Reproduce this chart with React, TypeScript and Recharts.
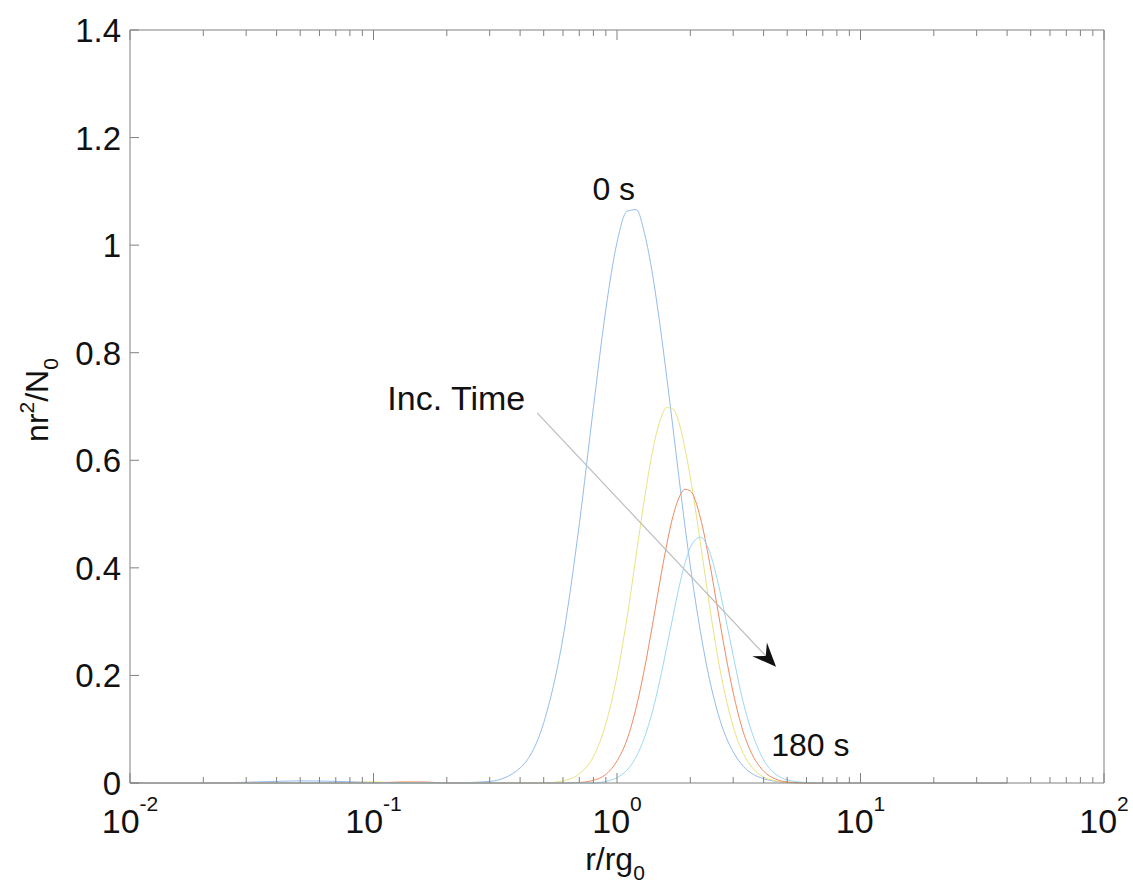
import React from "react";
import { LineChart, Line, XAxis, YAxis, ReferenceLine, ReferenceDot } from "recharts";

// r / rg0 sample points (log axis)
const radius = [
  0.01, 0.02, 0.04, 0.05, 0.07, 0.1, 0.13, 0.16, 0.2, 0.3, 0.4, 0.5, 0.6, 0.7, 0.8, 0.9,
  1.0, 1.1, 1.2, 1.3, 1.4, 1.5, 1.6, 1.7, 1.8, 1.9, 2.0, 2.2, 2.4, 2.6, 2.8, 3.0,
  3.3, 3.6, 4.0, 4.5, 5.0, 6.0, 8.0, 12, 20, 40,
];

// nr^2/N0, earliest to latest
const profile0s = [
  0, 0, 0.003, 0.004, 0.003, 0.001, 0, 0, 0, 0.003, 0.028, 0.112, 0.27, 0.481, 0.698, 0.881,
  1.005, 1.063, 1.066, 1.02, 0.945, 0.853, 0.755, 0.658, 0.565, 0.479, 0.404, 0.282, 0.192, 0.129, 0.086, 0.058,
  0.031, 0.017, 0.008, 0.003, 0.001, 0, 0, 0, 0, 0,
];
const profileB = [
  0, 0, 0, 0, 0, 0.002, 0, 0, 0, 0, 0, 0, 0.004, 0.017, 0.049, 0.11,
  0.199, 0.308, 0.425, 0.532, 0.617, 0.673, 0.698, 0.695, 0.669, 0.623, 0.569, 0.447, 0.329, 0.231, 0.158, 0.105,
  0.055, 0.028, 0.011, 0.004, 0.001, 0, 0, 0, 0, 0,
];
const profileC = [
  0, 0, 0, 0, 0, 0, 0.002, 0.002, 0, 0, 0, 0, 0, 0.001, 0.005, 0.016,
  0.041, 0.081, 0.141, 0.215, 0.295, 0.374, 0.443, 0.497, 0.531, 0.546, 0.543, 0.493, 0.41, 0.319, 0.236, 0.168,
  0.095, 0.052, 0.022, 0.007, 0.002, 0, 0, 0, 0, 0,
];
const profile180s = [
  0, 0, 0, 0, 0, 0, 0, 0, 0, 0, 0, 0, 0, 0, 0, 0.003,
  0.01, 0.024, 0.049, 0.086, 0.134, 0.191, 0.252, 0.311, 0.365, 0.408, 0.438, 0.457, 0.43, 0.372, 0.304, 0.237,
  0.15, 0.091, 0.043, 0.016, 0.006, 0.001, 0, 0, 0, 0,
];

const xMajorTicks = [0.01, 0.1, 1, 10, 100];
const xMinorTicks = [0.01, 0.1, 1, 10].flatMap((d) => [2, 3, 4, 5, 6, 7, 8, 9].map((m) => +(d * m).toPrecision(3)));
const yTicks = [0, 0.2, 0.4, 0.6, 0.8, 1, 1.2, 1.4];

const seriesList = [
  { key: "t0", values: profile0s, color: "#94bcec" },
  { key: "tB", values: profileB, color: "#e8e283" },
  { key: "tC", values: profileC, color: "#f08a62" },
  { key: "t180", values: profile180s, color: "#9dd8f3" },
];

const data = radius.map((r, i) => {
  const row: Record<string, number> = { r };
  seriesList.forEach((s) => (row[s.key] = s.values[i]));
  return row;
});

const FONT = '"Liberation Sans", Arial, Helvetica, sans-serif';
const AXIS = "#808080";

function BottomTick(props: any) {
  const { x, y, payload } = props;
  const v = payload.value;
  const major = xMajorTicks.includes(v);
  return (
    <g>
      <line x1={x} y1={y} x2={x} y2={y - (major ? 10 : 6)} stroke={AXIS} />
      {major && (
        <text x={x} y={y + 50} textAnchor="middle" fontFamily={FONT} fontSize={34} fill="#111">
          10
          <tspan dy={-22} fontSize={21}>
            {Math.round(Math.log10(v))}
          </tspan>
        </text>
      )}
    </g>
  );
}

function TopTick(props: any) {
  const { x, y, payload } = props;
  const major = xMajorTicks.includes(payload.value);
  return <line x1={x} y1={y} x2={x} y2={y + (major ? 10 : 6)} stroke={AXIS} />;
}

function LeftTick(props: any) {
  const { x, y, payload } = props;
  return (
    <g>
      <line x1={x} y1={y} x2={x + 9} y2={y} stroke={AXIS} />
      <text x={x - 9} y={y + 12} textAnchor="end" fontFamily={FONT} fontSize={33} fill="#111">
        {String(payload.value)}
      </text>
    </g>
  );
}

function RightTick(props: any) {
  const { x, y } = props;
  return <line x1={x} y1={y} x2={x - 9} y2={y} stroke={AXIS} />;
}

function ArrowShape(props: any) {
  const { x1, y1, x2, y2 } = props;
  const len = Math.hypot(x2 - x1, y2 - y1);
  const dx = (x2 - x1) / len;
  const dy = (y2 - y1) / len;
  const bx = x2 - dx * 24;
  const by = y2 - dy * 24;
  const nx = x2 - dx * 15;
  const ny = y2 - dy * 15;
  const pts = [
    [x2, y2],
    [bx - dy * 10, by + dx * 10],
    [nx, ny],
    [bx + dy * 10, by - dx * 10],
  ]
    .map((p) => p.join(","))
    .join(" ");
  return (
    <g>
      <line x1={x1} y1={y1} x2={nx} y2={ny} stroke="#bdbdbd" strokeWidth={1.2} />
      <polygon points={pts} fill="#111" />
    </g>
  );
}

const textShape = (label: string, anchor: "start" | "middle", size: number) => (p: any) =>
  (
    <text x={p.cx} y={p.cy} textAnchor={anchor} fontFamily={FONT} fontSize={size} fill="#111">
      {label}
    </text>
  );

export default function App() {
  return (
    <div style={{ position: "absolute", left: 0, top: 0, width: 1133, height: 886, background: "#fff" }}>
      <LineChart width={1133} height={886} data={data} margin={{ top: 29, right: 28, bottom: 23, left: 0 }}>
        <XAxis
          dataKey="r"
          type="number"
          scale="log"
          domain={[0.01, 100]}
          allowDataOverflow
          ticks={[...xMajorTicks, ...xMinorTicks]}
          interval={0}
          tickSize={0}
          tickMargin={0}
          tickLine={false}
          tick={<BottomTick />}
          axisLine={{ stroke: AXIS }}
          height={80}
        />
        <XAxis
          xAxisId="top"
          orientation="top"
          dataKey="r"
          type="number"
          scale="log"
          domain={[0.01, 100]}
          allowDataOverflow
          ticks={[...xMajorTicks, ...xMinorTicks]}
          interval={0}
          tickSize={0}
          tickMargin={0}
          tickLine={false}
          tick={<TopTick />}
          axisLine={{ stroke: AXIS }}
          height={1}
        />
        <YAxis
          type="number"
          domain={[0, 1.4]}
          ticks={yTicks}
          interval={0}
          tickSize={0}
          tickMargin={0}
          tickLine={false}
          tick={<LeftTick />}
          axisLine={{ stroke: AXIS }}
          width={130}
        />
        <YAxis
          yAxisId="right"
          orientation="right"
          type="number"
          domain={[0, 1.4]}
          ticks={yTicks}
          interval={0}
          tickSize={0}
          tickMargin={0}
          tickLine={false}
          tick={<RightTick />}
          axisLine={{ stroke: AXIS }}
          width={1}
        />
        {seriesList.map((s) => (
          <Line
            key={s.key}
            dataKey={s.key}
            type="monotone"
            stroke={s.color}
            strokeWidth={1}
            dot={false}
            activeDot={false}
            isAnimationActive={false}
          />
        ))}
        <ReferenceLine
          segment={[
            { x: 0.47, y: 0.688 },
            { x: 4.5, y: 0.216 },
          ]}
          shape={ArrowShape}
          ifOverflow="visible"
        />
        <ReferenceDot x={0.97} y={1.084} r={0} shape={textShape("0 s", "middle", 32)} ifOverflow="visible" />
        <ReferenceDot x={0.114} y={0.693} r={0} shape={textShape("Inc. Time", "start", 34)} ifOverflow="visible" />
        <ReferenceDot x={4.3} y={0.05} r={0} shape={textShape("180 s", "start", 32)} ifOverflow="visible" />
      </LineChart>
      <svg width={1133} height={886} style={{ position: "absolute", left: 0, top: 0, pointerEvents: "none" }}>
        <text x={615} y={870} textAnchor="middle" fontFamily={FONT} fontSize={32} fill="#111">
          r/rg
          <tspan dy={10} fontSize={21}>
            0
          </tspan>
        </text>
        <text
          transform="translate(48,400) rotate(-90)"
          textAnchor="middle"
          fontFamily={FONT}
          fontSize={32}
          fill="#111"
        >
          nr
          <tspan dy={-14} fontSize={21}>
            2
          </tspan>
          <tspan dy={14}>/N</tspan>
          <tspan dy={10} fontSize={21}>
            0
          </tspan>
        </text>
      </svg>
    </div>
  );
}
